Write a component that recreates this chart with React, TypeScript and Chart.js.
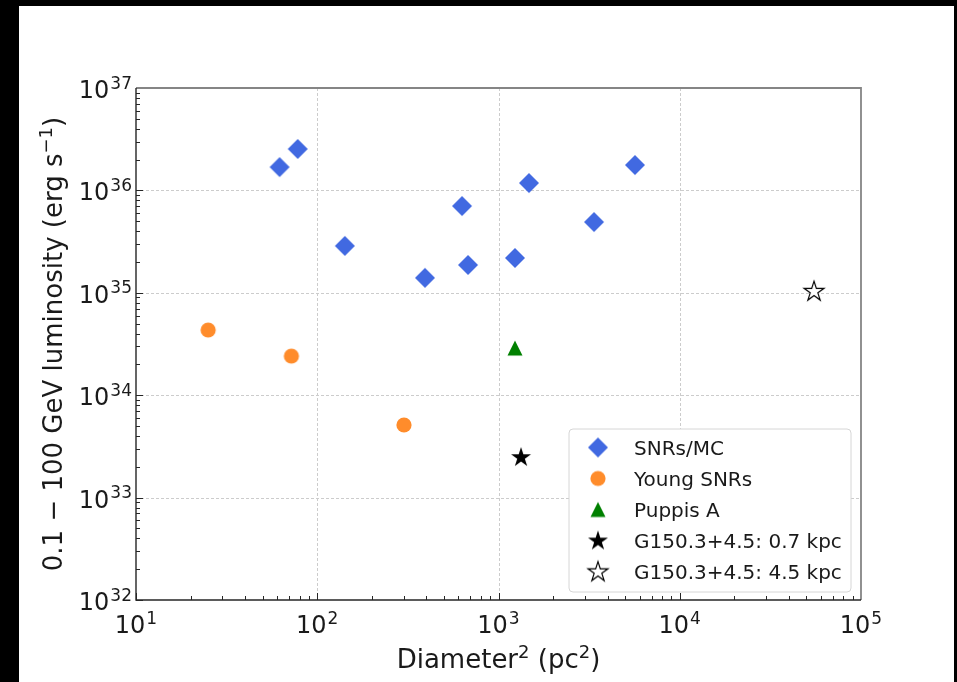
import React, { useEffect, useRef } from "react";
import { Chart, registerables } from "chart.js";

Chart.register(...registerables);

// ---- data ----
const snrMcX = [62, 78, 142, 393, 629, 679, 1233, 1473, 3365, 5662];
const snrMcY = [1.69e36, 2.54e36, 2.87e35, 1.4e35, 7.04e35, 1.87e35, 2.19e35, 1.18e36, 4.91e35, 1.77e36];
const youngX = [25, 72, 301];
const youngY = [4.33e34, 2.41e34, 5.12e33];
const puppisX = [1233];
const puppisY = [2.89e34];
const g07X = [1331];
const g07Y = [2.49e33];
const g45X = [55080];
const g45Y = [1.04e35];

const seriesLabels = ["SNRs/MC", "Young SNRs", "Puppis A", "G150.3+4.5: 0.7 kpc", "G150.3+4.5: 4.5 kpc"];

const xTickValues = [10, 100, 1000, 10000, 100000];
const xTickExps = ["1", "2", "3", "4", "5"];
const yTickValues = [1e32, 1e33, 1e34, 1e35, 1e36, 1e37];
const yTickExps = ["32", "33", "34", "35", "36", "37"];

const FONT = '"DejaVu Sans", sans-serif';
const TEXT = "#1a1a1a";

// ---- marker canvases ----
function mk(size: number, draw: (c: CanvasRenderingContext2D, h: number) => void) {
  const c = document.createElement("canvas");
  c.width = size;
  c.height = size;
  const ctx = c.getContext("2d") as CanvasRenderingContext2D;
  draw(ctx, size / 2);
  return c;
}
function diamond() {
  return mk(22, (c, h) => {
    const r = 10;
    c.beginPath();
    c.moveTo(h, h - r);
    c.lineTo(h + r, h);
    c.lineTo(h, h + r);
    c.lineTo(h - r, h);
    c.closePath();
    c.fillStyle = "#4169e1";
    c.fill();
  });
}
function circle() {
  return mk(18, (c, h) => {
    c.beginPath();
    c.arc(h, h, 7.6, 0, Math.PI * 2);
    c.fillStyle = "#ff8c2b";
    c.fill();
  });
}
function triangle() {
  return mk(18, (c, h) => {
    const r = 7.5;
    c.beginPath();
    c.moveTo(h, h - r);
    c.lineTo(h + r, h + r);
    c.lineTo(h - r, h + r);
    c.closePath();
    c.fillStyle = "#008000";
    c.fill();
  });
}
function star(filled: boolean) {
  return mk(26, (c, h) => {
    const R = 10.5;
    const r = R * 0.382;
    c.beginPath();
    for (let i = 0; i < 10; i++) {
      const rad = i % 2 === 0 ? R : r;
      const a = -Math.PI / 2 + (i * Math.PI) / 5;
      const px = h + rad * Math.cos(a);
      const py = h + 0.6 + rad * Math.sin(a);
      if (i === 0) c.moveTo(px, py);
      else c.lineTo(px, py);
    }
    c.closePath();
    if (filled) {
      c.fillStyle = "#000";
      c.fill();
    } else {
      c.fillStyle = "#fff";
      c.fill();
      c.lineWidth = 1.2;
      c.strokeStyle = "#000";
      c.lineJoin = "miter";
      c.stroke();
    }
  });
}

// ---- text helpers ----
function drawPow(
  ctx: CanvasRenderingContext2D,
  base: string,
  exp: string,
  x: number,
  baseline: number,
  align: "center" | "right",
  mainPx: number,
  supPx: number,
  rise: number
) {
  ctx.font = `${mainPx}px ${FONT}`;
  const wb = ctx.measureText(base).width;
  ctx.font = `${supPx}px ${FONT}`;
  const we = ctx.measureText(exp).width;
  const total = wb + 1 + we;
  const x0 = align === "center" ? x - total / 2 : x - total;
  ctx.textAlign = "left";
  ctx.textBaseline = "alphabetic";
  ctx.font = `${mainPx}px ${FONT}`;
  ctx.fillText(base, x0, baseline);
  ctx.font = `${supPx}px ${FONT}`;
  ctx.fillText(exp, x0 + wb + 1, baseline - rise);
}

type Part = { t: string; sup?: boolean };
function drawRich(ctx: CanvasRenderingContext2D, parts: Part[], cx: number, baseline: number, mainPx: number, supPx: number, rise: number) {
  const widths = parts.map((p) => {
    ctx.font = `${p.sup ? supPx : mainPx}px ${FONT}`;
    return ctx.measureText(p.t).width;
  });
  const total = widths.reduce((a, b) => a + b, 0);
  let x = cx - total / 2;
  ctx.textAlign = "left";
  ctx.textBaseline = "alphabetic";
  parts.forEach((p, i) => {
    ctx.font = `${p.sup ? supPx : mainPx}px ${FONT}`;
    ctx.fillText(p.t, x, p.sup ? baseline - rise : baseline);
    x += widths[i];
  });
}

export default function App() {
  const ref = useRef<HTMLCanvasElement | null>(null);

  useEffect(() => {
    document.body.style.margin = "0";
    const canvas = ref.current;
    if (!canvas) return;

    const styles = [diamond(), circle(), triangle(), star(true), star(false)];
    const xs = [snrMcX, youngX, puppisX, g07X, g45X];
    const ys = [snrMcY, youngY, puppisY, g07Y, g45Y];

    const decor = {
      id: "decor",
      beforeDraw(chart: any) {
        const ctx = chart.ctx as CanvasRenderingContext2D;
        const { left, right, top, bottom } = chart.chartArea;
        const sx = chart.scales.x;
        const sy = chart.scales.y;
        ctx.save();
        ctx.fillStyle = "#000";
        ctx.fillRect(0, 0, 957, 682);
        ctx.fillStyle = "#fff";
        ctx.fillRect(19, 6, 935, 676);
        // grid
        ctx.strokeStyle = "#cccccc";
        ctx.lineWidth = 1;
        ctx.setLineDash([3, 2]);
        xTickValues.slice(1, -1).forEach((v) => {
          const px = Math.round(sx.getPixelForValue(v)) + 0.5;
          ctx.beginPath();
          ctx.moveTo(px, top);
          ctx.lineTo(px, bottom);
          ctx.stroke();
        });
        yTickValues.slice(1, -1).forEach((v) => {
          const py = Math.round(sy.getPixelForValue(v)) + 0.5;
          ctx.beginPath();
          ctx.moveTo(left, py);
          ctx.lineTo(right, py);
          ctx.stroke();
        });
        ctx.restore();
      },
      afterDraw(chart: any) {
        const ctx = chart.ctx as CanvasRenderingContext2D;
        const { left, right, top, bottom } = chart.chartArea;
        const sx = chart.scales.x;
        const sy = chart.scales.y;
        ctx.save();
        // top/right spines (gray)
        ctx.strokeStyle = "#858585";
        ctx.lineWidth = 1.8;
        ctx.beginPath();
        ctx.moveTo(left, top);
        ctx.lineTo(right, top);
        ctx.lineTo(right, bottom);
        ctx.stroke();
        // left/bottom spines (dark)
        ctx.strokeStyle = "#262626";
        ctx.lineWidth = 1.4;
        ctx.beginPath();
        ctx.moveTo(left, top);
        ctx.lineTo(left, bottom);
        ctx.lineTo(right, bottom);
        ctx.stroke();
        // inward ticks
        ctx.lineWidth = 1;
        ctx.strokeStyle = "#262626";
        for (let e = 1; e < 5; e++) {
          for (let k = 1; k <= 9; k++) {
            const v = k * Math.pow(10, e);
            const px = Math.round(sx.getPixelForValue(v)) + 0.5;
            const len = k === 1 ? 7 : 4;
            ctx.beginPath();
            ctx.moveTo(px, bottom);
            ctx.lineTo(px, bottom - len);
            ctx.stroke();
          }
        }
        for (let e = 32; e < 37; e++) {
          for (let k = 1; k <= 9; k++) {
            const v = k * Math.pow(10, e);
            const py = Math.round(sy.getPixelForValue(v)) + 0.5;
            const len = k === 1 ? 7 : 4;
            ctx.beginPath();
            ctx.moveTo(left, py);
            ctx.lineTo(left + len, py);
            ctx.stroke();
          }
        }
        // tick labels
        ctx.fillStyle = TEXT;
        xTickValues.forEach((v, i) => {
          const px = sx.getPixelForValue(v);
          drawPow(ctx, "10", xTickExps[i], px, bottom + 33, "center", 24, 17, 9.5);
        });
        yTickValues.forEach((v, i) => {
          const py = sy.getPixelForValue(v);
          drawPow(ctx, "10", yTickExps[i], left - 4, py + 10, "right", 24, 17, 9.5);
        });
        // axis titles
        drawRich(
          ctx,
          [{ t: "Diameter" }, { t: "2", sup: true }, { t: " (pc" }, { t: "2", sup: true }, { t: ")" }],
          (left + right) / 2,
          668,
          26,
          18,
          10
        );
        ctx.save();
        ctx.translate(62, (top + bottom) / 2);
        ctx.rotate(-Math.PI / 2);
        drawRich(
          ctx,
          [{ t: "0.1 \u2212 100 GeV luminosity (erg s" }, { t: "\u22121", sup: true }, { t: ")" }],
          0,
          0,
          26,
          18,
          10
        );
        ctx.restore();
        // legend
        const bx = 569, by = 429, bw = 282, bh = 163, br = 4;
        ctx.beginPath();
        ctx.moveTo(bx + br, by);
        ctx.lineTo(bx + bw - br, by);
        ctx.arcTo(bx + bw, by, bx + bw, by + br, br);
        ctx.lineTo(bx + bw, by + bh - br);
        ctx.arcTo(bx + bw, by + bh, bx + bw - br, by + bh, br);
        ctx.lineTo(bx + br, by + bh);
        ctx.arcTo(bx, by + bh, bx, by + bh - br, br);
        ctx.lineTo(bx, by + br);
        ctx.arcTo(bx, by, bx + br, by, br);
        ctx.closePath();
        ctx.fillStyle = "#ffffff";
        ctx.fill();
        ctx.strokeStyle = "#d6d6d6";
        ctx.lineWidth = 1;
        ctx.stroke();
        chart.data.datasets.forEach((ds: any, i: number) => {
          const cy = 447.5 + i * 31;
          const img = ds.pointStyle as HTMLCanvasElement;
          ctx.drawImage(img, 598 - img.width / 2, cy - img.height / 2);
          ctx.fillStyle = TEXT;
          ctx.font = `20px ${FONT}`;
          ctx.textAlign = "left";
          ctx.textBaseline = "alphabetic";
          ctx.fillText(ds.label, 634, cy + 7.3);
        });
        ctx.restore();
      },
    };

    const chart = new Chart(canvas, {
      type: "scatter",
      data: {
        datasets: seriesLabels.map((label, i) => ({
          label,
          data: xs[i].map((x, j) => ({ x, y: ys[i][j] })),
          pointStyle: styles[i],
          pointRadius: 10,
          showLine: false,
        })),
      },
      options: {
        animation: false,
        responsive: false,
        maintainAspectRatio: false,
        events: [],
        layout: { padding: { left: 0, top: 88, right: 96, bottom: 0 } },
        plugins: { legend: { display: false }, tooltip: { enabled: false } },
        scales: {
          x: {
            type: "logarithmic",
            min: 10,
            max: 100000,
            ticks: { display: false },
            grid: { display: false },
            border: { display: false },
            afterFit: (s: any) => {
              s.height = 82;
            },
          },
          y: {
            type: "logarithmic",
            min: 1e32,
            max: 1e37,
            ticks: { display: false },
            grid: { display: false },
            border: { display: false },
            afterFit: (s: any) => {
              s.width = 136;
            },
          },
        },
      },
      plugins: [decor],
    } as any);

    return () => chart.destroy();
  }, []);

  return (
    <div style={{ position: "absolute", left: 0, top: 0, width: 957, height: 682 }}>
      <canvas ref={ref} width={957} height={682} style={{ display: "block", width: 957, height: 682 }} />
    </div>
  );
}
